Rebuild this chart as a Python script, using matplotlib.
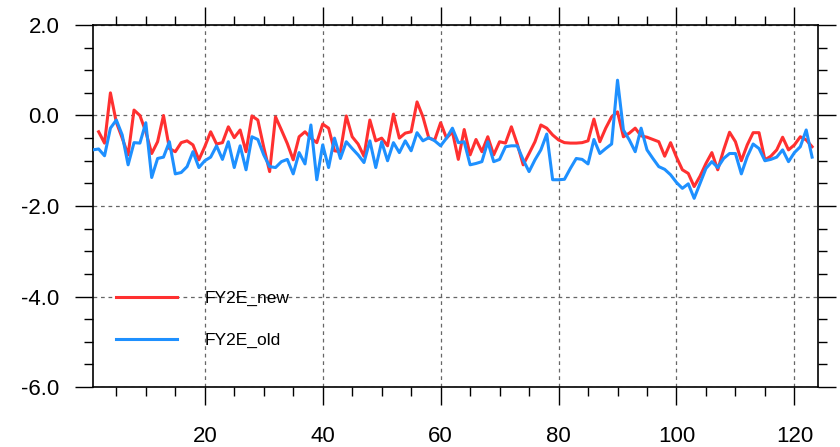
import numpy as np
import matplotlib
matplotlib.use("Agg")
from matplotlib import pyplot as plt
from matplotlib.ticker import MultipleLocator, FormatStrFormatter

plt.rcParams['font.family'] = ['Liberation Sans', 'DejaVu Sans']

# series values, one per day
new_start = 2
fy2e_new = [-0.36, -0.61, 0.50, -0.15, -0.50, -0.87, 0.12, 0.00, -0.36, -0.84,
            -0.58, 0.00, -0.73, -0.80, -0.60, -0.56, -0.65, -0.98, -0.69, -0.36,
            -0.63, -0.60, -0.25, -0.49, -0.32, -0.80, -0.01, -0.10, -0.70, -1.24,
            -0.03, -0.32, -0.62, -0.98, -0.47, -0.36, -0.50, -0.60, -0.19, -0.28,
            -0.78, -0.80, -0.01, -0.47, -0.63, -0.90, -0.10, -0.56, -0.50, -0.67,
            0.03, -0.50, -0.39, -0.36, 0.30, -0.03, -0.50, -0.54, -0.16, -0.50,
            -0.36, -0.97, -0.31, -0.87, -0.53, -0.80, -0.47, -0.87, -0.58, -0.61,
            -0.25, -0.63, -1.09, -0.84, -0.58, -0.21, -0.28, -0.43, -0.54, -0.60,
            -0.61, -0.61, -0.60, -0.56, -0.08, -0.58, -0.28, -0.03, 0.08, -0.47,
            -0.39, -0.28, -0.45, -0.48, -0.53, -0.58, -0.90, -0.60, -0.92, -1.20,
            -1.28, -1.57, -1.34, -1.06, -0.82, -1.20, -0.76, -0.37, -0.58, -1.00,
            -0.65, -0.38, -0.38, -0.98, -0.90, -0.76, -0.48, -0.76, -0.65, -0.47,
            -0.54, -0.69]

old_start = 1
fy2e_old = [-0.76, -0.74, -0.89, -0.28, -0.10, -0.43, -1.09, -0.60, -0.61, -0.16,
            -1.37, -0.95, -0.92, -0.58, -1.29, -1.26, -1.13, -0.80, -1.15, -1.00,
            -0.92, -0.67, -0.97, -0.58, -1.15, -0.67, -1.20, -0.47, -0.53, -0.87,
            -1.13, -1.15, -1.02, -0.97, -1.29, -0.82, -1.07, -0.21, -1.42, -0.65,
            -1.15, -0.50, -0.95, -0.58, -0.73, -0.87, -1.04, -0.56, -1.15, -0.58,
            -1.00, -0.60, -0.82, -0.56, -0.78, -0.38, -0.56, -0.49, -0.56, -0.67,
            -0.50, -0.28, -0.60, -0.58, -1.09, -1.06, -1.02, -0.58, -1.02, -0.97,
            -0.69, -0.67, -0.67, -0.98, -1.24, -0.98, -0.76, -0.41, -1.42, -1.42,
            -1.41, -1.17, -0.95, -0.97, -1.07, -0.53, -0.84, -0.73, -0.63, 0.78,
            -0.32, -0.54, -0.80, -0.28, -0.76, -0.95, -1.13, -1.19, -1.31, -1.48,
            -1.61, -1.51, -1.83, -1.50, -1.17, -1.02, -1.15, -0.95, -0.84, -0.84,
            -1.29, -0.91, -0.63, -0.73, -1.00, -0.97, -0.92, -0.76, -1.02, -0.82,
            -0.69, -0.32, -0.92]

labels = ["FY2E_new", "FY2E_old"]
x_range = (1, 124)

x_new = np.arange(new_start, new_start + len(fy2e_new))
x_old = np.arange(old_start, old_start + len(fy2e_old))

fig = plt.figure(figsize=(8.4, 4.47), dpi=100)
ax = fig.add_axes([0.1104, 0.1342, 0.8634, 0.8099])

ax.plot(x_new, fy2e_new, color='#ff3030', lw=2.2, label=labels[0], zorder=3)
ax.plot(x_old, fy2e_old, color='#1e90ff', lw=2.2, label=labels[1], zorder=3)

ax.set_xlim(*x_range)
ax.set_ylim(-6, 2)

ax.xaxis.set_major_locator(MultipleLocator(20))
ax.xaxis.set_minor_locator(MultipleLocator(5))
ax.yaxis.set_major_locator(MultipleLocator(2))
ax.yaxis.set_minor_locator(MultipleLocator(0.5))
ax.yaxis.set_major_formatter(FormatStrFormatter('%.1f'))

ax.grid(True, which='major', color='#666666', ls=(0, (3, 3)), lw=0.9)

ax.tick_params(which='both', direction='out', top=True, right=True,
               width=1.0, labelsize=16)
ax.tick_params(which='major', length=13, pad=11)
ax.tick_params(which='minor', length=6.5)
ax.tick_params(axis='x', which='major', pad=15)

for s in ax.spines.values():
    s.set_linewidth(1.2)

ax.legend(loc='center left', bbox_to_anchor=(0.032, 0.186), frameon=False,
          fontsize=12.5, handlelength=3.5, handletextpad=1.6,
          labelspacing=1.55, borderpad=0, borderaxespad=0)

fig.savefig('out.png', dpi=100)
